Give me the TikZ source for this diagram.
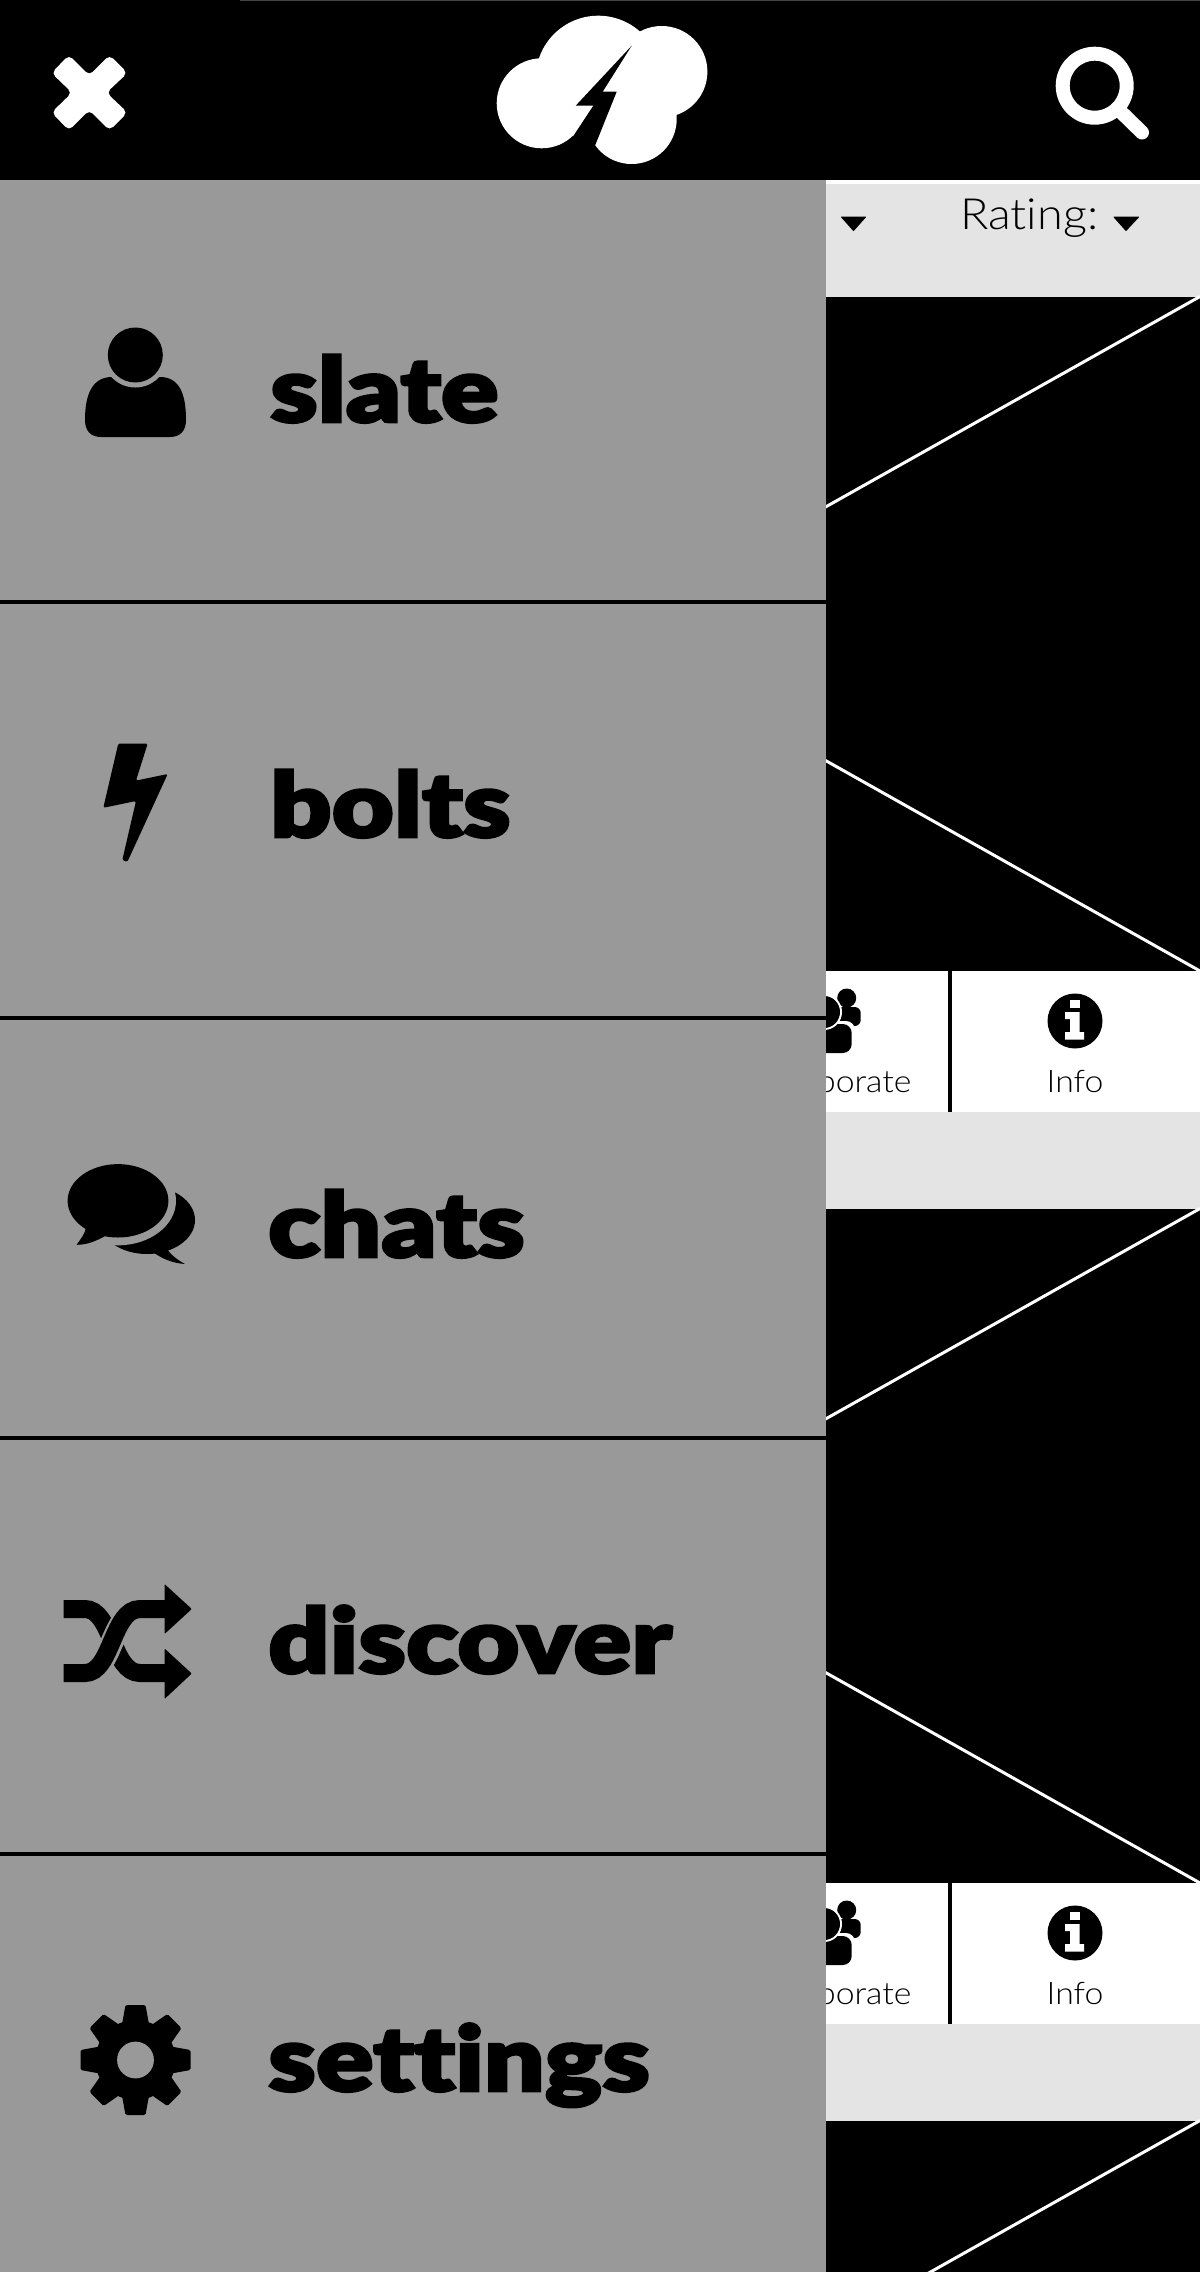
\documentclass[tikz,border=0pt]{standalone}
\usepackage{fontspec}
\usepackage{tikz}
\usetikzlibrary{positioning}
\newfontfamily\navfont[FakeStretch=1.19,FakeBold=3,Ligatures=CommonOff]{Lato Black}
\newfontfamily\thinfont[FakeStretch=1.09,Ligatures=CommonOff]{Lato Light}
\definecolor{panelgrey}{HTML}{999999}
\definecolor{stripgrey}{HTML}{E4E4E4}
\definecolor{topline}{HTML}{444444}
\tikzset{
    x=1pt,
    y=-1pt,
    band/.style={draw=none, inner sep=0pt, outer sep=0pt, minimum width=1200pt},
    imagebox/.style={band, fill=black, minimum height=674.5pt},
    cardbox/.style={band, fill=white, minimum height=141pt},
    stripbox/.style={band, fill=stripgrey, minimum height=96.5pt},
    crossline/.style={draw=white, line width=3pt},
    navlabel/.style={anchor=base west, inner sep=0pt, text=black, font=\navfont\fontsize{90}{90}\selectfont},
    thinlabel/.style={inner sep=0pt, text=black, font=\thinfont\fontsize{31}{31}\selectfont},
    rule/.style={draw=black, line width=4.5pt},
    caret/.style={fill=black, draw=black, line width=1pt, line join=round}
}
\begin{document}
\begin{tikzpicture}
    \useasboundingbox (0,0) rectangle (1200,2272);
    \clip (0,0) rectangle (1200,2272);
    \fill[white] (0,0) rectangle (1200,2272);

    \node[stripbox, minimum height=112.5pt, anchor=north west] (stripTop) at (0,184) {};
    \node[thinlabel, anchor=base west, font=\thinfont\fontsize{43}{43}\selectfont] (rating) at (960,229) {Rating:};
    \fill[caret] (841.5,217) -- (865.5,217) -- (853.5,230.5) -- cycle;
    \fill[caret] (1114,217) -- (1138.5,217) -- (1126,230.5) -- cycle;

    \foreach \offset [count=\i] in {0,912} {
        \begin{scope}[yshift=-\offset pt]
            \node[imagebox, anchor=north west] (img\i) at (0,296.5) {};
            \draw[crossline] (img\i.north east) -- (img\i.south west);
            \draw[crossline] (img\i.north west) -- (img\i.south east);
            \node[cardbox, below=0pt of img\i] (card\i) {};
            \node[stripbox, below=0pt of card\i] (strip\i) {};
            \draw[draw=black, line width=4pt] (950,971) -- (950,1112);
            \fill[black] (846.7,998) circle (9.5);
            \fill[black, rounded corners=6pt] (830,1007) -- (860.7,1007) -- (860.7,1026) -- (830,1026) -- cycle;
            \fill[white, rounded corners=9pt] (792,1056) -- (792,1021) -- (855,1021) -- (855,1056) -- cycle;
            \fill[black, rounded corners=9pt] (796,1053) -- (796,1024) -- (851.7,1024) -- (851.7,1053) -- cycle;
            \fill[white] (824,1012) circle (18);
            \fill[black] (824,1012) circle (16);
            \node[thinlabel, anchor=base east] (collab\i) at (911.7,1092.7) {Collaborate};
            \fill[black] (1075,1021) circle (27.5);
            \fill[white] (1070,1000) rectangle (1079.5,1008.3);
            \fill[white] (1065,1012) -- (1079.5,1012) -- (1079.5,1032) -- (1084,1032) -- (1084,1039.5) -- (1065,1039.5) -- (1065,1032) -- (1070,1032) -- (1070,1019) -- (1065,1019) -- cycle;
            \node[thinlabel, anchor=base] (info\i) at (1075,1092.7) {Info};
        \end{scope}
    }
    \node[imagebox, anchor=north west] (img3) at (0,2120.5) {};
    \draw[crossline] (img3.north east) -- (img3.south west);

    \fill[black] (0,0) rectangle (1200,180);
    \fill[topline] (240,0) rectangle (1200,1);
    \fill[white] (826,180) rectangle (1200,184);

    \fill[white, rounded corners=5pt] (89.3,75.5) -- (109.5,55) -- (127.5,73) -- (106.5,92.7) -- (127.5,112.5) -- (109.5,130.5) -- (89.3,110) -- (69,130.5) -- (51.5,112.5) -- (72,92.7) -- (51.5,73) -- (69,55) -- cycle;

    \fill[white] (541.7,103.3) circle (45);
    \fill[white] (598.3,78.3) circle (62.6);
    \fill[white] (661.7,71.7) circle (45.7);
    \fill[white] (631.7,119) circle (45);
    \fill[black] (631.7,45.7) -- (602.7,91.7) -- (616.7,91.7) -- (595,145.7) -- (590,158) -- (563.3,151) -- (574,135) -- (593.3,105.7) -- (575.7,105.7) -- cycle;

    \draw[draw=white, line width=14pt] (1094.7,85.7) circle (32);
    \draw[draw=white, line width=14pt, line cap=round] (1120,111) -- (1142,132.5);

    \fill[panelgrey] (0,180) rectangle (826,2272);
    \draw[rule] (0,602) -- (826,602);
    \draw[rule] (0,1018) -- (826,1018);
    \draw[rule] (0,1438) -- (826,1438);
    \draw[rule] (0,1854) -- (826,1854);

    \fill[black] (85,420) .. controls (85,395) and (92,377) .. (112,377) -- (160,377) .. controls (180,377) and (186,395) .. (186,420) .. controls (186,431) and (180,437) .. (170,437) -- (101,437) .. controls (91,437) and (85,431) .. (85,420) -- cycle;
    \fill[panelgrey] (135.3,355) circle (32.5);
    \fill[black] (135.3,355) circle (27.5);
    \node[navlabel] (slate) at (270,422) {slate};

    \fill[black, rounded corners=1.5pt] (118.3,743.5) -- (147.7,743.5) -- (136,780.6) -- (167.7,774) -- (127.3,862) -- (122.3,860) -- (136,801) -- (103.3,807.8) -- cycle;
    \node[navlabel] (bolts) at (270,837) {bolts};

    \fill[black] (147,1220) ellipse (48 and 34);
    \fill[black] (165,1245) .. controls (168,1252) and (174,1258) .. (185,1264) .. controls (172,1263) and (162,1259) .. (150,1250) -- cycle;
    \fill[panelgrey] (118,1200.8) ellipse (58 and 44.5);
    \fill[black] (118,1200.8) ellipse (50.4 and 36.7);
    \fill[black] (86,1226) .. controls (86,1233) and (80,1240) .. (76.6,1244.8) .. controls (88,1245) and (98,1240) .. (107,1235) -- cycle;
    \node[navlabel] (chats) at (268,1257) {chats};

    \draw[draw=black, line width=18pt] (63.7,1609) -- (85,1609) .. controls (112,1609) and (112,1673) .. (140,1673) -- (166,1673);
    \draw[draw=panelgrey, line width=23pt] (86,1673) .. controls (112,1673) and (112,1609) .. (142,1609);
    \draw[draw=black, line width=18pt] (63.7,1673) -- (85,1673) .. controls (112,1673) and (112,1609) .. (140,1609) -- (166,1609);
    \fill[black, rounded corners=1pt] (164.5,1584) -- (191.8,1609) -- (164.5,1634) -- cycle;
    \fill[black, rounded corners=1pt] (164.5,1648.5) -- (191.8,1673.5) -- (164.5,1699) -- cycle;
    \node[navlabel] (discover) at (268,1673) {discover};

    \foreach \angle in {0,45,...,315} {
        \fill[black, rotate around={\angle:(135.5,2060)}, rounded corners=1.5pt] (121,2030) -- (125.5,2005) -- (145.5,2005) -- (150,2030) -- cycle;
    }
    \fill[black] (135.5,2060) circle (40);
    \fill[panelgrey] (135.5,2060) circle (18.4);
    \node[navlabel] (settings) at (268,2091) {settings};
\end{tikzpicture}
\end{document}
